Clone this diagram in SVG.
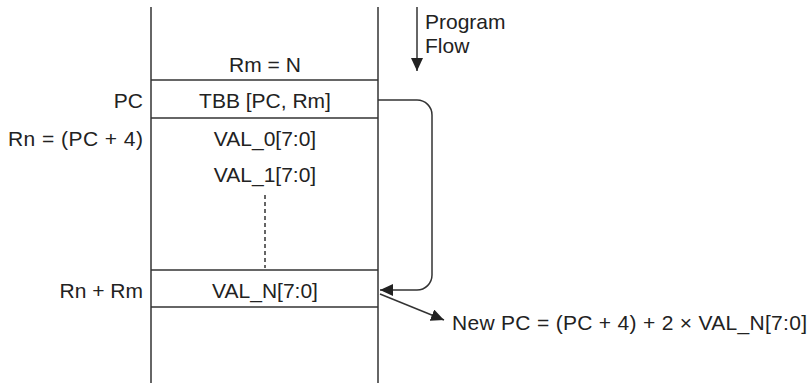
<svg xmlns="http://www.w3.org/2000/svg" width="810" height="385" viewBox="0 0 810 385">
<style>
text{font-family:"Liberation Sans",Arial,sans-serif;font-size:21px;fill:#222}
.c{text-anchor:middle}
.r{text-anchor:end}
.ln{stroke:#333;stroke-width:1.5;fill:none}
</style>
<defs>
<marker id="ah" viewBox="0 0 13 12" refX="13" refY="6" markerWidth="13" markerHeight="12" markerUnits="userSpaceOnUse" orient="auto">
<path d="M0,0 L13,6 L0,12 Z" fill="#222"/>
</marker>
</defs>
<rect width="810" height="385" fill="#fff"/>
<g id="memory">
<line class="ln" x1="151" y1="7" x2="151" y2="383"/>
<line class="ln" x1="378" y1="7" x2="378" y2="383"/>
<line class="ln" x1="151" y1="80" x2="378" y2="80"/>
<line class="ln" x1="151" y1="118" x2="378" y2="118"/>
<line class="ln" x1="151" y1="270" x2="378" y2="270"/>
<line class="ln" x1="151" y1="307" x2="378" y2="307"/>
<line class="ln" x1="265" y1="195" x2="265" y2="268" stroke-dasharray="4,3" stroke-width="1.2"/>
</g>
<g id="rm"><text class="c" x="265" y="72">Rm = N</text></g>
<g id="tbb"><text class="r" x="143" y="108">PC</text><text class="c" x="265" y="108">TBB [PC, Rm]</text></g>
<g id="val0"><text class="r" x="143" y="146" textLength="135" lengthAdjust="spacing">Rn = (PC + 4)</text><text class="c" x="265" y="146">VAL_0[7:0]</text></g>
<g id="val1"><text class="c" x="265" y="182">VAL_1[7:0]</text></g>
<g id="valn"><text class="r" x="143" y="298">Rn + Rm</text><text class="c" x="265" y="298">VAL_N[7:0]</text></g>
<g id="newpc"><text x="452" y="330" textLength="355" lengthAdjust="spacing">New PC = (PC + 4) + 2 × VAL_N[7:0]</text></g>
<g id="flow"><text x="425" y="29">Program</text><text x="425" y="53">Flow</text></g>
<g id="connectors">
<line class="ln" x1="417" y1="7" x2="417" y2="71" marker-end="url(#ah)"/>
<path class="ln" d="M378,100 H417 A15,15 0 0 1 432,115 V275 A15,15 0 0 1 417,290 H380" marker-end="url(#ah)"/>
<line class="ln" x1="380" y1="294" x2="444" y2="320" marker-end="url(#ah)"/>
</g>
</svg>
